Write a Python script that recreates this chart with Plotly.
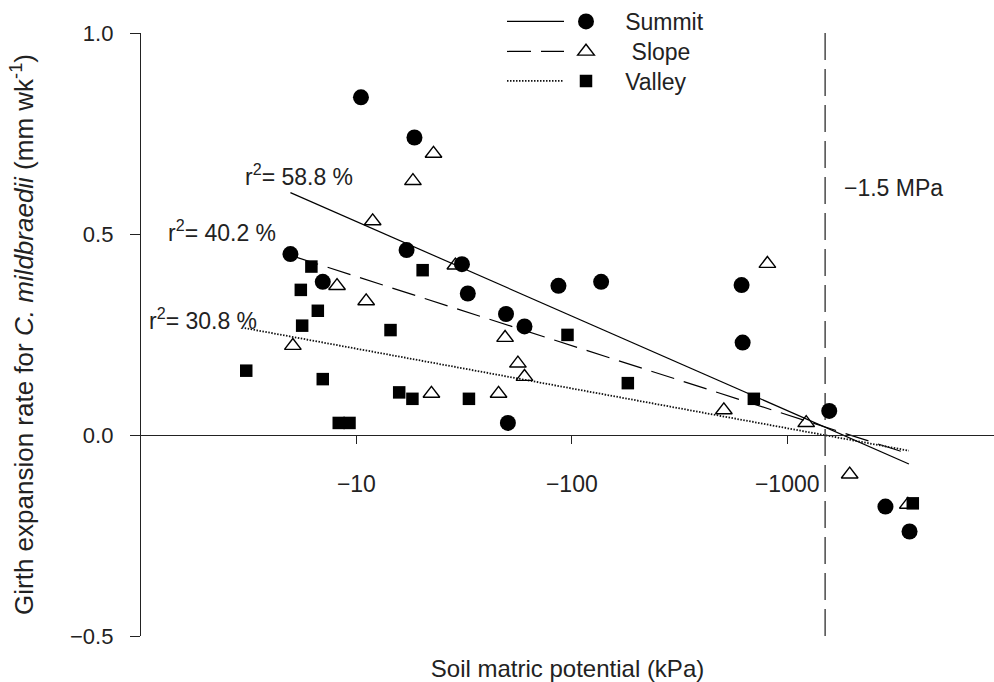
import math
import plotly.graph_objects as go

# ---------------- data (soil matric potential magnitude in kPa; axis labelled negative) ----------------
summit_x = [10.5, 18.6, 4.94, 17.1, 30.9, 6.98, 32.9, 49.5, 60.3, 50.5, 86.7, 136.8, 614, 621, 1567, 2858, 3698]
summit_y = [0.840, 0.740, 0.450, 0.460, 0.425, 0.381, 0.352, 0.301, 0.270, 0.030, 0.371, 0.381, 0.373, 0.230, 0.060, -0.178, -0.240]

slope_x = [22.8, 18.3, 11.9, 28.8, 8.13, 11.1, 49.0, 5.07, 56.2, 60.3, 22.3, 45.7, 809, 508, 1225, 1950, 3631]
slope_y = [0.700, 0.632, 0.532, 0.422, 0.371, 0.333, 0.242, 0.222, 0.178, 0.145, 0.103, 0.103, 0.426, 0.062, 0.030, -0.098, -0.173]

valley_x = [6.18, 20.3, 5.52, 6.62, 5.60, 14.4, 3.08, 6.98, 15.8, 18.2, 33.3, 8.28, 9.29, 95.5, 182, 700, 3828]
valley_y = [0.419, 0.410, 0.361, 0.309, 0.272, 0.261, 0.160, 0.139, 0.106, 0.090, 0.090, 0.030, 0.030, 0.249, 0.129, 0.090, -0.170]

# regression lines (end points)
summit_fit_x = [4.94, 3673]
summit_fit_y = [0.603, -0.072]
slope_fit_x = [5.2, 3673]
slope_fit_y = [0.443, -0.047]
valley_fit_x = [3.03, 3673]
valley_fit_y = [0.266, -0.039]

series_names = ["Summit", "\u00a0Slope", "Valley"]

r2_labels = ["r<sup>2</sup>= 58.8 %", "r<sup>2</sup>= 40.2 %", "r<sup>2</sup>= 30.8 %"]
r2_x = [2.99, 1.30, 1.07]
r2_y = [0.647, 0.508, 0.289]

wilting_x = 1500          # -1.5 MPa in kPa
wilting_label = "\u22121.5 MPa"
y_span = [-0.5, 1.0]

x_tickvals = [10, 100, 1000]
x_ticktext = ["\u221210", "\u2212100", "\u22121000"]
y_tickvals = [-0.5, 0.0, 0.5, 1.0]
y_ticktext = ["\u22120.5", "0.0", "0.5", "1.0"]

FONT = "Liberation Sans, Arial, Helvetica, sans-serif"
INK = "#222"

# plot area in pixels (for placing the legends)
L, R, T, B, W, H = 141, 0, 32, 46, 994, 682
PW, PH = W - L - R, H - T - B
legend_rows_px = [20, 51.5, 81]


def px_x(p):
    return (p - L) / PW


def px_y(p):
    return (H - B - p) / PH


fig = go.Figure()

line_styles = [dict(color="black", width=1.2),
               dict(color="black", width=1.2, dash="24px,10px"),
               dict(color="#111", width=1.8, dash="1.5px,1.5px")]
fits = [(summit_fit_x, summit_fit_y), (slope_fit_x, slope_fit_y), (valley_fit_x, valley_fit_y)]
for i, ((fx, fy), ls) in enumerate(zip(fits, line_styles)):
    fig.add_trace(go.Scatter(x=fx, y=fy, mode="lines", line=ls, name="",
                             legend=f"legend{i + 1 if i else ''}", hoverinfo="skip"))

# -1.5 MPa line
fig.add_trace(go.Scatter(x=[wilting_x, wilting_x], y=y_span, mode="lines",
                         line=dict(color="#555", width=1.6, dash="27px,9px"),
                         showlegend=False, hoverinfo="skip"))

markers = [dict(symbol="circle", size=16, color="black"),
           dict(symbol="triangle-up-open", size=14.5, color="black", line=dict(width=1.4, color="black")),
           dict(symbol="square", size=12.5, color="black")]
pts = [(summit_x, summit_y), (slope_x, slope_y), (valley_x, valley_y)]
for i, ((px_, py_), mk, nm) in enumerate(zip(pts, markers, series_names)):
    fig.add_trace(go.Scatter(x=px_, y=py_, mode="markers", name="\u00a0\u00a0\u00a0" + nm,
                             marker=mk, legend=f"legend{i + 4}"))

annotations = []
for t, ax_, ay_ in zip(r2_labels, r2_x, r2_y):
    annotations.append(dict(x=math.log10(ax_), y=ay_, xref="x", yref="y", text=t,
                            showarrow=False, xanchor="left", yanchor="middle",
                            font=dict(family=FONT, size=23, color=INK)))
annotations.append(dict(x=math.log10(1800), y=0.614, xref="x", yref="y", text=wilting_label,
                        showarrow=False, xanchor="left", yanchor="middle",
                        font=dict(family=FONT, size=23, color=INK)))

legends = {}
for i, ry in enumerate(legend_rows_px):
    common = dict(yanchor="middle", y=px_y(ry), xanchor="left",
                  font=dict(family=FONT, size=23, color=INK), bgcolor="rgba(0,0,0,0)",
                  itemclick=False, itemdoubleclick=False)
    legends[f"legend{i + 1 if i else ''}"] = dict(common, x=px_x(502), itemwidth=57)
    legends[f"legend{i + 4}"] = dict(common, x=px_x(566))

fig.update_layout(
    width=W, height=H,
    margin=dict(l=L, r=R, t=T, b=B),
    paper_bgcolor="white", plot_bgcolor="white",
    font=dict(family=FONT, color=INK),
    showlegend=True,
    annotations=annotations,
    xaxis=dict(type="log", range=[0, 3.96], anchor="free", position=1 / 3,
               showline=True, linecolor=INK, linewidth=1.3,
               ticks="outside", ticklen=8, tickwidth=1.3, tickcolor=INK,
               tickvals=x_tickvals, ticktext=x_ticktext, ticklabelstandoff=20,
               tickfont=dict(family=FONT, size=23, color=INK),
               showgrid=False, zeroline=False,
               title=dict(text="Soil matric potential (kPa)", standoff=164,
                          font=dict(family=FONT, size=24, color=INK))),
    yaxis=dict(range=[-0.5, 1.0], showline=True, linecolor=INK, linewidth=1.3,
               ticks="outside", ticklen=10, tickwidth=1.3, tickcolor=INK,
               tickvals=y_tickvals, ticktext=y_ticktext, ticklabelstandoff=12,
               tickfont=dict(family=FONT, size=22, color=INK),
               showgrid=False, zeroline=False,
               title=dict(text="Girth expansion rate for <i>C. mildbraedii</i> (mm wk<sup>-1</sup>)",
                          standoff=28, font=dict(family=FONT, size=26, color=INK))),
    **legends,
)

fig.write_html("out.html")
